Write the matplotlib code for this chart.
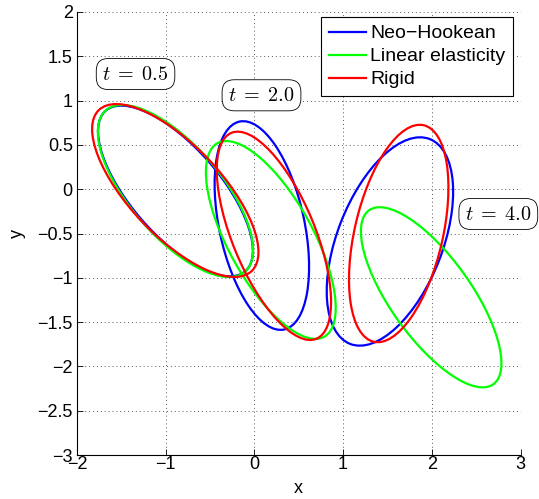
import matplotlib
matplotlib.use("Agg")
import matplotlib.pyplot as plt
from matplotlib.patches import Ellipse
from matplotlib.lines import Line2D

plt.rcParams['font.family'] = ['Liberation Sans', 'DejaVu Sans']
plt.rcParams['mathtext.fontset'] = 'cm'

# Models and colours
models = ["Neo\u2212Hookean", "Linear elasticity", "Rigid"]
colors = ["#0000ff", "#00ff00", "#ff0000"]

# Ellipse shapes per model at t = 0.5, 2.0, 4.0 (center x, center y, semi-major, semi-minor, angle in degrees)
times = ["0.5", "2.0", "4.0"]
neo_cx = [-0.89, 0.084, 1.528]
neo_cy = [-0.02, -0.41, -0.59]
neo_a = [1.20, 1.20, 1.24]
neo_b = [0.50, 0.48, 0.594]
neo_ang = [-49.0, -77.9, 68.8]

lin_cx = [-0.89, 0.185, 1.993]
lin_cy = [-0.02, -0.573, -1.22]
lin_a = [1.202, 1.247, 1.206]
lin_b = [0.513, 0.477, 0.455]
lin_ang = [-49.3, -61.2, -54.5]

rig_cx = [-0.892, 0.22, 1.627]
rig_cy = [-0.015, -0.526, -0.50]
rig_a = [1.252, 1.257, 1.254]
rig_b = [0.514, 0.466, 0.497]
rig_ang = [-46.6, -67.6, 77.0]

# Time label positions
label_x = [-1.34, 0.08, 2.75]
label_y = [1.30, 1.06, -0.28]

xticks = [-2, -1, 0, 1, 2, 3]
yticks = [-3, -2.5, -2, -1.5, -1, -0.5, 0, 0.5, 1, 1.5, 2]

fig = plt.figure(figsize=(5.39, 4.99), dpi=100)
ax = fig.add_axes([77/539, 1-455/499, (520.5-77)/539, (455-12)/499])

series = [
    (neo_cx, neo_cy, neo_a, neo_b, neo_ang),
    (lin_cx, lin_cy, lin_a, lin_b, lin_ang),
    (rig_cx, rig_cy, rig_a, rig_b, rig_ang),
]
for (cx, cy, a, b, ang), col in zip(series, colors):
    for i in range(len(times)):
        e = Ellipse((cx[i], cy[i]), 2*a[i], 2*b[i], angle=ang[i],
                    fill=False, edgecolor=col, lw=1.6)
        ax.add_patch(e)

for t, lx, ly in zip(times, label_x, label_y):
    ax.text(lx, ly, r"$t\;=\;%s$" % t, fontsize=14.5, ha='center', va='center',
            bbox=dict(boxstyle='round,pad=0.3,rounding_size=0.6', fc='white', ec='black', lw=0.6),
            clip_on=False, zorder=5)

ax.set_xlim(-2, 3)
ax.set_ylim(-3, 2)
ax.set_xticks(xticks)
ax.set_yticks(yticks)
ax.set_xticklabels([("\u2212%g" % -v) if v < 0 else "%g" % v for v in xticks])
ax.set_yticklabels([("\u2212%g" % -v) if v < 0 else "%g" % v for v in yticks])
ax.tick_params(direction='in', labelsize=13, length=4, width=0.6, pad=3)
ax.tick_params(axis='x', pad=1)
ax.spines['top'].set_visible(False)
ax.spines['right'].set_visible(False)
ax.spines['left'].set_linewidth(0.8)
ax.spines['bottom'].set_linewidth(0.8)
ax.grid(True, linestyle=(0, (1, 3)), color='0.35', linewidth=0.7)
ax.set_axisbelow(True)
ax.set_xlabel("x", fontsize=13, labelpad=5)
ax.set_ylabel("y", fontsize=13, labelpad=8)

handles = [Line2D([0], [0], color=c, lw=1.6) for c in colors]
leg = ax.legend(handles, models, loc='upper right', bbox_to_anchor=(513/539, 1-17/499),
                bbox_transform=fig.transFigure, fontsize=14, frameon=True, fancybox=False,
                edgecolor='black', framealpha=1, borderpad=0.4, labelspacing=0.28,
                handlelength=1.9, handletextpad=0.2, borderaxespad=0)
leg.get_frame().set_linewidth(0.8)

fig.savefig("out.png", dpi=100)
